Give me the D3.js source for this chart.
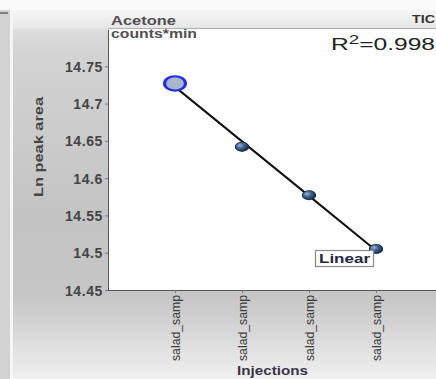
<!DOCTYPE html>
<html>
<head>
<meta charset="utf-8">
<script src="https://cdn.jsdelivr.net/npm/d3@7/dist/d3.min.js"></script>
<style>
  html, body { margin: 0; padding: 0; background: #fff; }
  svg { display: block; }
  text { font-family: "Liberation Sans", Arial, sans-serif; }
</style>
</head>
<body>
<svg id="chart" width="436" height="379"></svg>
<script>
// Injections and their natural-log peak areas (Acetone, TIC)
const injections = ["salad_samp 1", "salad_samp 2", "salad_samp 3", "salad_samp 4"];
const injectionLabels = ["salad_samp", "salad_samp", "salad_samp", "salad_samp"];
const lnPeakArea = [14.727, 14.642, 14.577, 14.505];
const yTicks = [14.45, 14.5, 14.55, 14.6, 14.65, 14.7, 14.75];
const yTickLabels = ["14.45", "14.5", "14.55", "14.6", "14.65", "14.7", "14.75"];
const rSquared = "0.998";

const svg = d3.select("#chart");
const W = 436, H = 379;
const plot = { left: 108, top: 29, right: 443, bottom: 290 };
const stretch = 1.45; // horizontal aspect of the markers

// Panel backgrounds
const defs = svg.append("defs");
const bg = defs.append("linearGradient").attr("id", "bgGrad").attr("x1", 0).attr("y1", 0).attr("x2", 0).attr("y2", 1);
[[0, "#e4e4e4"], [0.12, "#d3d3d3"], [0.55, "#c4c4c4"], [0.78, "#c6c6c6"], [1, "#f0f0f0"]]
  .forEach(([o, c]) => bg.append("stop").attr("offset", o).attr("stop-color", c));
const hdr = defs.append("linearGradient").attr("id", "hdrGrad").attr("x1", 0).attr("y1", 0).attr("x2", 0).attr("y2", 1);
[[0, "#f6f6f6"], [1, "#e6e6e6"]].forEach(([o, c]) => hdr.append("stop").attr("offset", o).attr("stop-color", c));
const ball = defs.append("radialGradient").attr("id", "ballGrad").attr("cx", 0.35).attr("cy", 0.35).attr("r", 0.7);
[[0, "#9fb6d3"], [0.45, "#3f6190"], [1, "#16263d"]].forEach(([o, c]) => ball.append("stop").attr("offset", o).attr("stop-color", c));

svg.append("rect").attr("width", W).attr("height", H).attr("fill", "#fafafa");
svg.append("rect").attr("x", 0).attr("y", 10).attr("width", 10).attr("height", H - 10).attr("fill", "#d2d2d2");
svg.append("line").attr("x1", 0).attr("x2", 8).attr("y1", 13).attr("y2", 13).attr("stroke", "#666").attr("stroke-width", 1.5);
svg.append("rect").attr("x", 13).attr("y", 10).attr("width", W - 13).attr("height", H - 10).attr("fill", "url(#bgGrad)");
svg.append("rect").attr("x", 13).attr("y", 10).attr("width", W - 13).attr("height", 19).attr("fill", "url(#hdrGrad)");
svg.append("line").attr("x1", 11.5).attr("x2", 11.5).attr("y1", 10).attr("y2", H).attr("stroke", "#f4f4f4").attr("stroke-width", 2);
svg.append("line").attr("x1", plot.left).attr("x2", W).attr("y1", 28.5).attr("y2", 28.5).attr("stroke", "#b0b0b0");

// Plot area
svg.append("rect").attr("x", plot.left).attr("y", plot.top).attr("width", plot.right - plot.left)
  .attr("height", plot.bottom - plot.top).attr("fill", "#ffffff");

const x = d3.scalePoint().domain(injections).range([plot.left, plot.right]).padding(1);
const y = d3.scaleLinear().domain([14.45, 14.8]).range([plot.bottom, plot.top]);

// Y axis
const yAxis = svg.append("g").attr("transform", `translate(${plot.left},0)`)
  .call(d3.axisLeft(y).tickValues(yTicks).tickSize(3).tickPadding(2)
    .tickFormat((d, i) => yTickLabels[i]));
yAxis.select(".domain").attr("stroke", "#555").attr("d", `M0.5,${plot.top + 1}V${plot.bottom + 0.5}`);
yAxis.selectAll(".tick line").attr("stroke", "#777");
yAxis.selectAll(".tick text").attr("fill", "#444").attr("font-size", 14).attr("font-weight", "bold")
  .attr("letter-spacing", "0.6px").attr("dy", "0.36em");

// X axis
const xAxis = svg.append("g").attr("transform", `translate(0,${plot.bottom})`)
  .call(d3.axisBottom(x).tickSize(3).tickFormat((d, i) => injectionLabels[i]));
xAxis.select(".domain").attr("stroke", "#555").attr("d", `M${plot.left},0.5H${W}`);
xAxis.selectAll(".tick line").attr("stroke", "#777");
xAxis.selectAll(".tick text")
  .attr("transform", "rotate(-90)")
  .attr("text-anchor", "end")
  .attr("x", -5).attr("y", 0).attr("dy", "0.35em")
  .attr("fill", "#3a3a3a").attr("font-size", 12)
  .attr("textLength", 66).attr("lengthAdjust", "spacingAndGlyphs");

// Axis titles
svg.append("text").attr("transform", `translate(43,147) rotate(-90)`).attr("text-anchor", "middle")
  .attr("font-size", 12).attr("font-weight", "bold").attr("fill", "#444")
  .attr("textLength", 100).attr("lengthAdjust", "spacingAndGlyphs")
  .text("Ln peak area");
svg.append("text").attr("x", 237).attr("y", 375)
  .attr("font-size", 13).attr("font-weight", "bold").attr("fill", "#3b3348")
  .attr("textLength", 71).attr("lengthAdjust", "spacingAndGlyphs")
  .text("Injections");

// Header texts
svg.append("text").attr("x", 111).attr("y", 25).attr("font-size", 12.5).attr("font-weight", "bold").attr("fill", "#505050")
  .attr("textLength", 65).attr("lengthAdjust", "spacingAndGlyphs").text("Acetone");
svg.append("text").attr("x", 111).attr("y", 38).attr("font-size", 12.5).attr("font-weight", "bold").attr("fill", "#505050")
  .attr("textLength", 86).attr("lengthAdjust", "spacingAndGlyphs").text("counts*min");
svg.append("text").attr("x", 412).attr("y", 23).attr("font-size", 11.5).attr("font-weight", "bold").attr("fill", "#333")
  .attr("textLength", 23).attr("lengthAdjust", "spacingAndGlyphs").text("TIC");

// R² annotation
const r2 = svg.append("text").attr("x", 331).attr("y", 50)
  .attr("font-family", "'Open Sans', 'DejaVu Sans', sans-serif").attr("font-size", 17).attr("fill", "#222")
  .attr("textLength", 104).attr("lengthAdjust", "spacingAndGlyphs");
r2.append("tspan").text("R");
r2.append("tspan").attr("font-size", 13).attr("dy", -6).text("2");
r2.append("tspan").attr("dy", 6).text("=" + rSquared);

// Least-squares linear fit over the injection index
const xs = lnPeakArea.map((d, i) => i + 1);
const mx = d3.mean(xs), my = d3.mean(lnPeakArea);
const slope = d3.sum(xs, (v, i) => (v - mx) * (lnPeakArea[i] - my)) / d3.sum(xs, v => (v - mx) ** 2);
const intercept = my - slope * mx;
const fitted = xs.map(v => intercept + slope * v);

svg.append("path")
  .datum(injections.map((d, i) => [x(d), y(fitted[i])]))
  .attr("d", d3.line())
  .attr("stroke", "#111").attr("stroke-width", 2).attr("fill", "none");

// Points: selected first injection drawn highlighted
svg.selectAll("circle.pt").data(lnPeakArea).join("circle")
  .attr("class", "pt")
  .attr("transform", (d, i) => `translate(${x(injections[i])},${y(d)}) scale(${stretch},1)`)
  .attr("r", (d, i) => i === 0 ? 7.2 : 4.6)
  .attr("fill", (d, i) => i === 0 ? "#a9b6cb" : "url(#ballGrad)")
  .attr("stroke", (d, i) => i === 0 ? "#2430e0" : "#1a2b44")
  .attr("stroke-width", (d, i) => i === 0 ? 2.2 : 0.7);

// Fit type label
const lab = svg.append("g").attr("transform", `translate(315,250)`);
lab.append("rect").attr("x", 0.5).attr("y", 0.5).attr("width", 58).attr("height", 16)
  .attr("fill", "#fff").attr("stroke", "#8a8a8a").attr("stroke-width", 1.2);
lab.append("text").attr("x", 4).attr("y", 13)
  .attr("font-size", 12.5).attr("font-weight", "bold").attr("fill", "#262640")
  .attr("textLength", 51).attr("lengthAdjust", "spacingAndGlyphs").text("Linear");
</script>
</body>
</html>
